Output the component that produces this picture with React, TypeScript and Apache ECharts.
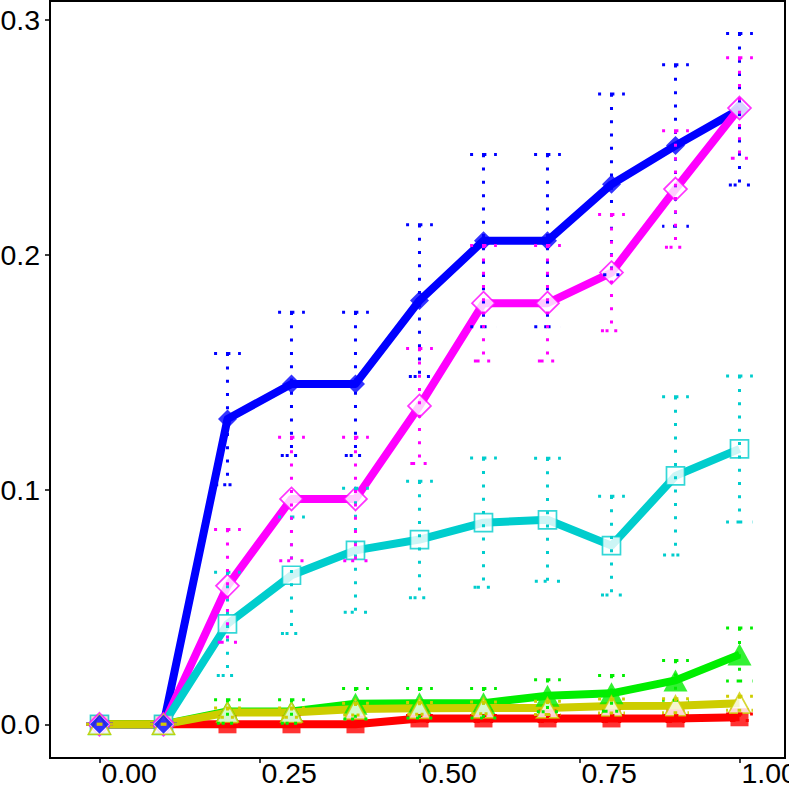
import React, { useEffect, useRef } from "react";
import * as echarts from "echarts";

const xs = [0, 0.1, 0.2, 0.3, 0.4, 0.5, 0.6, 0.7, 0.8, 0.9, 1.0];

const blueMean = [0, 0, 0.130, 0.145, 0.145, 0.1805, 0.206, 0.206, 0.230, 0.2465, 0.262];
const blueErr = [0, 0, 0.028, 0.0305, 0.0305, 0.0323, 0.0367, 0.0367, 0.0385, 0.0344, 0.0323];

const magentaMean = [0, 0, 0.059, 0.096, 0.096, 0.1356, 0.1794, 0.1794, 0.1924, 0.228, 0.2625];
const magentaErr = [0, 0, 0.024, 0.0263, 0.0263, 0.0245, 0.0246, 0.0246, 0.0248, 0.0248, 0.0214];

const cyanMean = [0, 0, 0.0428, 0.0635, 0.0741, 0.0787, 0.0859, 0.0871, 0.0761, 0.1058, 0.1173];
const cyanErr = [0, 0, 0.022, 0.0248, 0.0264, 0.0248, 0.0275, 0.0262, 0.021, 0.0337, 0.0311];

const greenMean = [0, 0, 0.0055, 0.0055, 0.0088, 0.009, 0.009, 0.0122, 0.0132, 0.0187, 0.0297];
const greenErr = [0, 0, 0.005, 0.005, 0.0065, 0.0063, 0.0063, 0.0068, 0.0076, 0.0085, 0.0113];

const yellowMean = [0, 0, 0.005, 0.005, 0.0065, 0.0068, 0.007, 0.007, 0.0078, 0.0079, 0.009];
const yellowErr = [0, 0, 0.002, 0.002, 0.0025, 0.0025, 0.0025, 0.0028, 0.003, 0.003, 0.003];

const redMean = [0, 0, 0, 0, 0, 0.0025, 0.0025, 0.0025, 0.0025, 0.0025, 0.003];
const redErr = [0, 0, 0, 0, 0, 0.0013, 0.0013, 0.0013, 0.0013, 0.0013, 0.0014];

const xTicks = [0, 0.25, 0.5, 0.75, 1.0];
const yTicks = [0, 0.1, 0.2, 0.3];

// indices of the points where every group sits at zero; blue markers are drawn on top there
const sharedZeroIdx = [0, 1];

type Grp = {
  name: string;
  color: string;
  mean: number[];
  err: number[];
  symbol: string;
  size: number[];
  hollow: boolean;
};

const groups: Grp[] = [
  { name: "blue", color: "#0000FF", mean: blueMean, err: blueErr, symbol: "diamond", size: [19, 19], hollow: false },
  { name: "magenta", color: "#FF00FF", mean: magentaMean, err: magentaErr, symbol: "diamond", size: [23, 23], hollow: true },
  { name: "cyan", color: "#00CDCD", mean: cyanMean, err: cyanErr, symbol: "rect", size: [18, 18], hollow: true },
  { name: "red", color: "#FF0000", mean: redMean, err: redErr, symbol: "rect", size: [18, 18], hollow: false },
  { name: "green", color: "#00EE00", mean: greenMean, err: greenErr, symbol: "triangle", size: [24, 22], hollow: false },
  { name: "yellow", color: "#CDCD00", mean: yellowMean, err: yellowErr, symbol: "triangle", size: [22, 20], hollow: true },
];

const pointOrder = ["red", "green", "cyan", "blue", "magenta", "yellow"];

export default function App() {
  const ref = useRef<HTMLDivElement>(null);
  useEffect(() => {
    if (!ref.current) return;
    const chart = echarts.init(ref.current, null, { renderer: "svg" });
    const font = "'Liberation Sans', Arial, Helvetica, sans-serif";
    const series: any[] = [];
    const pointStyle = (g: Grp) =>
      g.hollow ? { color: "#FFFFFF", borderColor: g.color, borderWidth: 1.7 } : { color: g.color };
    groups.forEach((g) => {
      series.push({
        type: "line",
        name: g.name + "-line",
        data: xs.map((x, i) => [x, g.mean[i]]),
        showSymbol: false,
        symbol: "none",
        z: 2,
        lineStyle: { color: g.color, width: 8, cap: "butt", join: "round" },
        silent: true,
      });
    });
    pointOrder.forEach((n) => {
      const g = groups.find((q) => q.name === n)!;
      series.push({
        type: "scatter",
        name: g.name + "-pts",
        data: xs.map((x, i) => [x, g.mean[i]]),
        symbol: g.symbol,
        symbolSize: g.size,
        z: 3,
        itemStyle: pointStyle(g),
        silent: true,
      });
    });
    {
      const g = groups[0];
      series.push({
        type: "scatter",
        name: "blue-pts-top",
        data: sharedZeroIdx.map((i) => [xs[i], g.mean[i]]),
        symbol: g.symbol,
        symbolSize: g.size,
        z: 3,
        itemStyle: pointStyle(g),
        silent: true,
      });
    }
    pointOrder.forEach((n) => {
      const g = groups.find((q) => q.name === n)!;
      series.push({
        type: "custom",
        name: g.name + "-err",
        data: xs.map((x, i) => [x, g.mean[i], g.err[i]]),
        z: 4,
        silent: true,
        renderItem: (params: any, api: any) => {
          const x = api.value(0);
          const y = api.value(1);
          const e = api.value(2);
          const top = api.coord([x, y + e]);
          const bot = api.coord([x, y - e]);
          const hw = 13.4;
          const cx = top[0];
          return {
            type: "polyline",
            shape: {
              points: [
                [cx - hw, top[1]],
                [cx + hw, top[1]],
                [cx, top[1]],
                [cx, bot[1]],
                [cx - hw, bot[1]],
                [cx + hw, bot[1]],
              ],
            },
            style: {
              stroke: g.color,
              lineWidth: 3,
              lineDash: [3, 10.3],
              lineCap: "butt",
              fill: null,
            },
          };
        },
      });
    });

    chart.setOption({
      animation: false,
      backgroundColor: "#FFFFFF",
      grid: {
        left: 50,
        top: 1,
        right: 4,
        bottom: 31,
        containLabel: false,
        outerBoundsMode: "none",
        show: true,
        borderColor: "#000000",
        borderWidth: 2,
        backgroundColor: "#FFFFFF",
      },
      xAxis: {
        type: "value",
        min: -0.0773,
        max: 1.0711,
        splitLine: { show: false },
        axisLine: { show: true, onZero: false, lineStyle: { color: "#000", width: 2 } },
        axisTick: { show: true, length: 5, customValues: xTicks, lineStyle: { color: "#000", width: 1.5 } },
        axisLabel: {
          customValues: xTicks,
          formatter: (v: number) => v.toFixed(2),
          align: "left",
          padding: [0, 0, 0, 2],
          margin: 5,
          lineHeight: 20,
          fontSize: 28.5,
          color: "#000",
          fontFamily: font,
          hideOverlap: false,
        },
      },
      yAxis: {
        type: "value",
        min: -0.01435,
        max: 0.3081,
        splitLine: { show: false },
        axisLine: { show: true, onZero: false, lineStyle: { color: "#000", width: 2 } },
        axisTick: { show: true, length: 5, customValues: yTicks, lineStyle: { color: "#000", width: 1.5 } },
        axisLabel: {
          customValues: yTicks,
          formatter: (v: number) => v.toFixed(1),
          margin: 10,
          fontSize: 28.5,
          color: "#000",
          fontFamily: font,
        },
      },
      series,
    });
    return () => chart.dispose();
  }, []);
  return (
    <div
      ref={ref}
      style={{ position: "absolute", left: 0, top: 0, width: 789, height: 789, background: "#fff" }}
    />
  );
}
